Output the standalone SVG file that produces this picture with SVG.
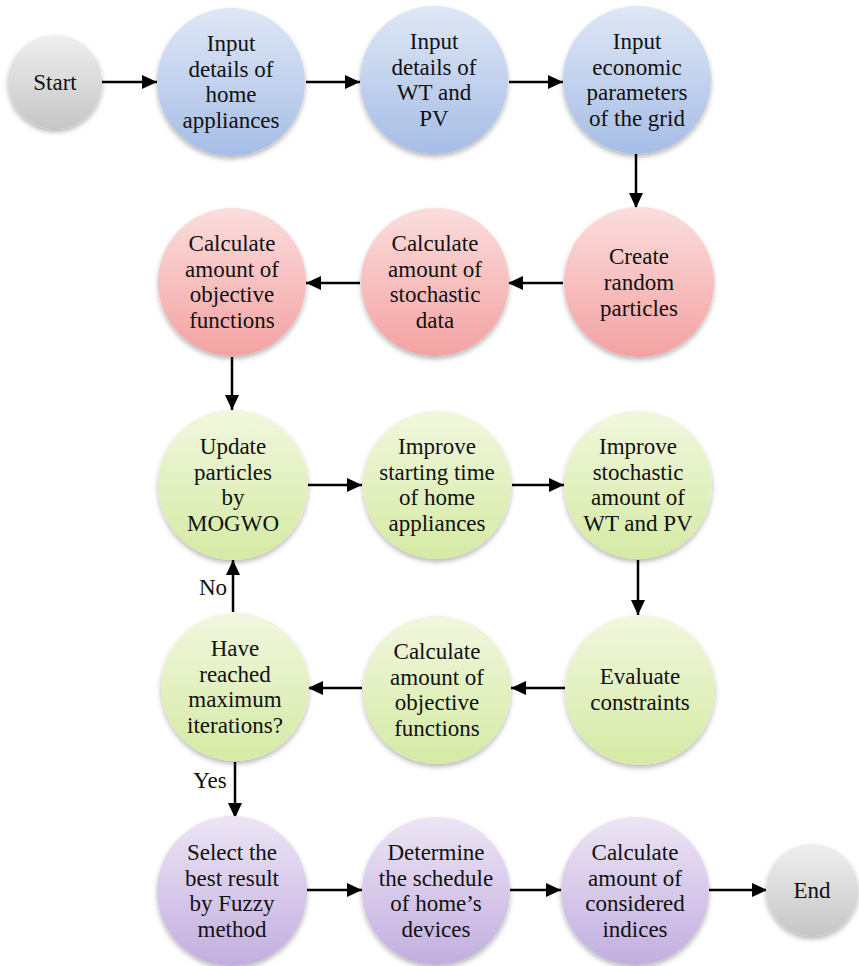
<svg xmlns="http://www.w3.org/2000/svg" width="859" height="966" viewBox="0 0 859 966">
<defs>
<style>
text{font-family:"Liberation Serif","Times New Roman",serif;font-size:23px;fill:#111;text-anchor:middle}
.c{stroke:none;filter:url(#sh)}
.gray{fill:url(#gGray)}.blue{fill:url(#gBlue)}.red{fill:url(#gRed)}.green{fill:url(#gGreen)}.purple{fill:url(#gPurple)}
.ar{stroke:#000;stroke-width:2.5;fill:none;marker-end:url(#ah)}
</style>
<filter id="sh" x="-20%" y="-20%" width="140%" height="140%"><feDropShadow dx="0" dy="3" stdDeviation="2.5" flood-color="#000" flood-opacity="0.28"/></filter>
<linearGradient id="gGray" x1="0" y1="0" x2="0" y2="1"><stop offset="0" stop-color="#efefef"/><stop offset="1" stop-color="#c6c6c6"/></linearGradient>
<linearGradient id="gBlue" x1="0" y1="0" x2="0" y2="1"><stop offset="0" stop-color="#dfe7f5"/><stop offset="1" stop-color="#a6bde6"/></linearGradient>
<linearGradient id="gRed" x1="0" y1="0" x2="0" y2="1"><stop offset="0" stop-color="#fbdddd"/><stop offset="1" stop-color="#f4a2a2"/></linearGradient>
<linearGradient id="gGreen" x1="0" y1="0" x2="0" y2="1"><stop offset="0" stop-color="#f1f7de"/><stop offset="1" stop-color="#d5eaa4"/></linearGradient>
<linearGradient id="gPurple" x1="0" y1="0" x2="0" y2="1"><stop offset="0" stop-color="#ede5f5"/><stop offset="1" stop-color="#c2aee0"/></linearGradient>
<marker id="ah" markerUnits="userSpaceOnUse" markerWidth="16" markerHeight="16" refX="15" refY="8" orient="auto"><path d="M0,1 L15,8 L0,15 z" fill="#000"/></marker>
</defs>
<rect width="859" height="966" fill="#fff"/>
<g id="connectors">
<line class="ar" x1="102" y1="82" x2="157" y2="82"/>
<line class="ar" x1="306" y1="82" x2="360" y2="82"/>
<line class="ar" x1="509" y1="82" x2="563" y2="82"/>
<line class="ar" x1="636" y1="154" x2="636" y2="208"/>
<line class="ar" x1="563" y1="283" x2="508" y2="283"/>
<line class="ar" x1="360" y1="283" x2="306" y2="283"/>
<line class="ar" x1="232" y1="357" x2="232" y2="410"/>
<line class="ar" x1="308" y1="485" x2="362" y2="485"/>
<line class="ar" x1="512" y1="485" x2="564" y2="485"/>
<line class="ar" x1="638" y1="560" x2="638" y2="615"/>
<line class="ar" x1="565" y1="688" x2="511" y2="688"/>
<line class="ar" x1="362" y1="688" x2="308" y2="688"/>
<line class="ar" x1="233" y1="612" x2="233" y2="560"/>
<line class="ar" x1="235" y1="762" x2="235" y2="818"/>
<line class="ar" x1="307" y1="890" x2="362" y2="890"/>
<line class="ar" x1="510" y1="890" x2="561" y2="890"/>
<line class="ar" x1="709" y1="890" x2="767" y2="890"/>
<text x="213" y="595">No</text>
<text x="210" y="788">Yes</text>
</g>
<g id="start"><circle class="c gray" cx="55" cy="82" r="47"/><text x="55" y="90">Start</text></g>
<g id="n1"><circle class="c blue" cx="231" cy="82" r="74"/><text x="231" y="51">Input</text><text x="231" y="76.5">details of</text><text x="231" y="102">home</text><text x="231" y="127.5">appliances</text></g>
<g id="n2"><circle class="c blue" cx="434" cy="80" r="74"/><text x="434" y="49">Input</text><text x="434" y="74.5">details of</text><text x="434" y="100">WT and</text><text x="434" y="125.5">PV</text></g>
<g id="n3"><circle class="c blue" cx="637" cy="80" r="74"/><text x="637" y="49">Input</text><text x="637" y="74.5">economic</text><text x="637" y="100">parameters</text><text x="637" y="125.5">of the grid</text></g>
<g id="n4"><circle class="c red" cx="639" cy="282" r="75"/><text x="639" y="263.5">Create</text><text x="639" y="289.5">random</text><text x="639" y="315.5">particles</text></g>
<g id="n5"><circle class="c red" cx="435" cy="282" r="74"/><text x="435" y="251">Calculate</text><text x="435" y="276.5">amount of</text><text x="435" y="302">stochastic</text><text x="435" y="327.5">data</text></g>
<g id="n6"><circle class="c red" cx="232" cy="282" r="74"/><text x="232" y="251">Calculate</text><text x="232" y="276.5">amount of</text><text x="232" y="302">objective</text><text x="232" y="327.5">functions</text></g>
<g id="n7"><circle class="c green" cx="233" cy="485" r="75"/><text x="233" y="454">Update</text><text x="233" y="479.5">particles</text><text x="233" y="505">by</text><text x="233" y="530.5">MOGWO</text></g>
<g id="n8"><circle class="c green" cx="437" cy="485" r="74"/><text x="437" y="454">Improve</text><text x="437" y="479.5">starting time</text><text x="437" y="505">of home</text><text x="437" y="530.5">appliances</text></g>
<g id="n9"><circle class="c green" cx="638" cy="485" r="74"/><text x="638" y="454">Improve</text><text x="638" y="479.5">stochastic</text><text x="638" y="505">amount of</text><text x="638" y="530.5">WT and PV</text></g>
<g id="n10"><circle class="c green" cx="640" cy="690" r="75"/><text x="640" y="684">Evaluate</text><text x="640" y="710">constraints</text></g>
<g id="n11"><circle class="c green" cx="437" cy="690" r="74"/><text x="437" y="659">Calculate</text><text x="437" y="684.5">amount of</text><text x="437" y="710">objective</text><text x="437" y="735.5">functions</text></g>
<g id="n12"><circle class="c green" cx="235" cy="687" r="74"/><text x="235" y="656">Have</text><text x="235" y="681.5">reached</text><text x="235" y="707">maximum</text><text x="235" y="732.5">iterations?</text></g>
<g id="n13"><circle class="c purple" cx="232" cy="891" r="75"/><text x="232" y="860">Select the</text><text x="232" y="885.5">best result</text><text x="232" y="911">by Fuzzy</text><text x="232" y="936.5">method</text></g>
<g id="n14"><circle class="c purple" cx="436" cy="891" r="74"/><text x="436" y="860">Determine</text><text x="436" y="885.5">the schedule</text><text x="436" y="911">of home’s</text><text x="436" y="936.5">devices</text></g>
<g id="n15"><circle class="c purple" cx="635" cy="891" r="74"/><text x="635" y="860">Calculate</text><text x="635" y="885.5">amount of</text><text x="635" y="911">considered</text><text x="635" y="936.5">indices</text></g>
<g id="end"><circle class="c gray" cx="812" cy="890" r="46"/><text x="812" y="898">End</text></g>
</svg>
